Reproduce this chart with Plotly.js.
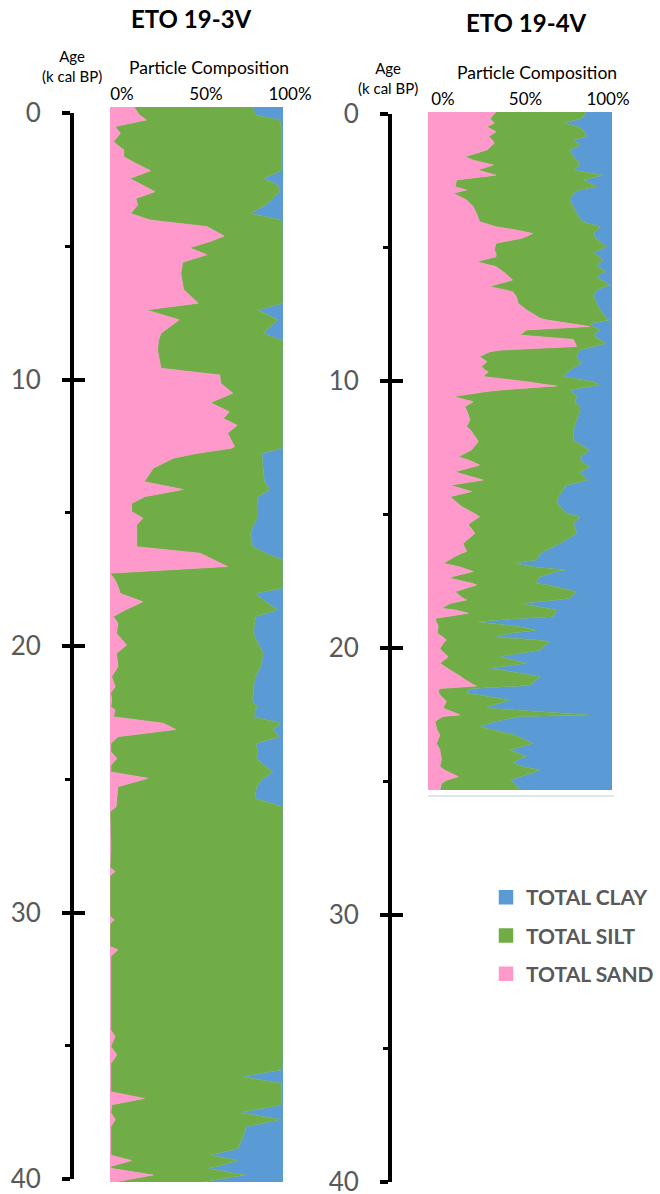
<!DOCTYPE html>
<html>
<head>
<meta charset="utf-8">
<script src="https://cdn.plot.ly/plotly-3.0.1.min.js"></script>
<style>html,body{margin:0;padding:0;background:#fff;}#chart{width:660px;height:1194px;}</style>
</head>
<body>
<div id="chart"></div>
<script>
// ---------- DATA ----------
// Core ETO 19-3V : age (k cal BP) and particle composition (%)
const ageA = [0,0.3,0.48,0.73,0.98,1.29,1.6,1.85,2.1,2.37,
2.66,2.9,3.15,3.4,3.65,3.96,4.2,4.45,4.8,5,
5.24,5.5,5.78,6.2,6.8,7.3,7.55,7.92,8.42,8.7,
9.04,9.72,9.97,10.28,10.65,11,11.34,11.59,11.84,12.14,
12.64,12.7,12.89,13.07,13.44,13.94,14.23,14.5,14.75,15.05,
15.3,15.55,15.86,16.36,16.6,16.86,17.1,17.35,17.6,17.9,
18.1,18.41,18.72,18.96,19.21,19.59,20.02,20.33,20.83,21.2,
21.57,21.8,22.07,22.32,22.44,22.69,22.93,23.16,23.43,23.68,
23.99,24.24,24.49,24.74,24.98,25.29,25.73,26.04,26.22,27.6,
28.3,28.45,28.6,30.1,30.25,30.4,31.24,31.36,31.6,34.34,
34.59,34.96,35.27,35.59,35.83,36.08,36.33,36.64,36.89,37.13,
37.42,37.67,37.94,38.31,38.75,39,39.2,39.42,39.49,39.74,40];
const sandA = [14,17,21,3,6,2,8,8,15,23.5,
11.5,19,26,15,16,12,23,56,66,58,
46,56,42,41,42.6,51,21,40,29.5,28,
27.5,29.5,63.5,64,71,58,69,65.5,73.5,68,
72,70,50,36.6,25,19.8,42.3,20,12.5,12.5,
19,15.4,15.6,15.5,52,60,68,0,3,5,
6,19,8.7,2,4.6,3.8,9.6,3.8,4.6,1,
3,0.4,1,0.5,3,2,30.8,38,4.6,0.5,
0.5,4,0.5,0.5,22,4.6,3.8,3.5,0,0.5,
0,3,0,0,2.5,0,0,4.6,0.5,0.5,
3,0.5,4,0.5,0.5,0.5,0.5,0.5,20,1,
0.5,3,0.5,0.5,0.5,0.5,12.5,0.5,0.5,25,3];
const siltA = [68.5,67,77,96,93,97,91,91,84,75.5,
77.1,78,72,79,74,69,76,44,34,42,
54,44,58,59,57.4,49,64.5,57,59.1,72,
72.5,70.5,36.5,36,29,42,31,34.5,26.5,32,
28,29,37.7,51.4,63.6,69.5,50.2,65.5,72.5,72.5,
66,67.6,65.4,67,38,40,32,100,97,95,
77.8,71,88.3,82.4,78.9,79.2,76.4,84.8,82.4,83,
80,82.6,81,84.5,81,81,68.2,56,93.4,83.9,
85,80.7,88.5,93.5,66.6,80.1,80,96.5,100,99.5,
100,97,100,100,97.5,100,100,95.4,99.5,99.5,
97,99.5,96,99.5,98.5,75.5,98.5,98.5,79,98,
74.5,96,78.1,76.5,73.5,57.5,61.5,61.5,55.5,53,51];
const clayA = [17.5,16,2,1,1,1,1,1,1,1,
11.4,3,2,6,10,19,1,0,0,0,
0,0,0,0,0,0,14.5,3,11.4,0,
0,0,0,0,0,0,0,0,0,0,
0,1,12.3,12,11.4,10.7,7.5,14.5,15,15,
15,17,19,17.5,10,0,0,0,0,0,
16.2,10,3,15.6,16.5,17,14,11.4,13,16,
17,17,18,15,16,17,1,6,2,15.6,
14.5,15.3,11,6,11.4,15.3,16.2,0,0,0,
0,0,0,0,0,0,0,0,0,0,
0,0,0,0,1,24,1,1,1,1,
25,1,21.4,23,26,42,26,38,44,22,46];

// Core ETO 19-4V
const ageB = [0,0.24,0.42,0.55,0.74,0.92,1.05,1.17,1.23,1.42,
1.67,1.8,1.98,2.17,2.36,2.54,2.79,2.92,3.04,3.29,
3.54,3.79,4.1,4.29,4.41,4.54,4.72,4.91,5.03,5.16,
5.28,5.41,5.53,5.6,5.78,5.97,6.03,6.16,6.28,6.47,
6.53,6.65,6.72,6.9,7.15,7.4,7.71,7.78,7.9,8.02,
8.15,8.34,8.5,8.65,8.77,8.9,8.96,9.15,9.33,9.4,
9.52,9.65,9.71,9.89,10.08,10.2,10.24,10.39,10.45,10.64,
10.83,11.02,11.14,11.5,11.76,11.88,12.26,12.32,12.64,12.89,
13.01,13.2,13.26,13.45,13.5,13.76,13.95,14.19,14.38,14.63,
14.75,15,15.13,15.38,15.44,15.75,16.13,16.43,16.5,16.62,
16.75,16.87,17,17.12,17.18,17.37,17.43,17.62,17.68,17.93,
18.18,18.24,18.37,18.55,18.62,18.74,18.87,18.93,19.06,19.24,
19.37,19.49,19.62,19.74,19.8,20.05,20.11,20.36,20.61,20.8,
20.86,21.11,21.17,21.42,21.46,21.55,21.61,21.74,21.79,21.99,
22.04,22.24,22.29,22.54,22.6,22.73,22.79,22.98,23.04,23.23,
23.29,23.6,23.85,24.1,24.16,24.35,24.48,24.6,24.85,24.98,
25.1,25.35];
const sandB = [37,33.7,36,32,37,33,35,36,35,32,
20,24.6,35.5,27,37,15.6,14.7,21,13.8,21,
24.6,26.4,28,37,48,57,51,37,36.5,36,
37,37,30,26.4,37,41,42,44,46,36,
33.7,42,46,48,49,53.6,61,65,77,88,
53.6,50,79,80,80.8,40,33.7,28,32,31,
29,31,32.8,30,53.6,65,70,40,32,13.8,
24.6,20,21,22.8,21,23,27,27.4,23.5,16.5,
22,28,25,14.7,17,30,12,23.7,12,16,
18.3,25,28,22.5,22,25.5,19,21,18,14.7,
11,8.3,17,22,24.6,13,12,24,26.4,14.7,
19,21,12,7.4,15,22,8,3.8,4.5,5.6,
5.2,5,8,10,9,6.5,7,11,6.5,10.5,
12,18,19,25,26.4,7,5.6,6,6.5,9.5,
10,8.5,8.3,17.4,8,5,3.8,4.5,4.6,6,
6.5,4.6,6.5,7,7.4,6.8,6.5,9,16.5,10,
7.4,6.5];
const siltB = [49,49.8,37.5,50,48,53,44,45,47.6,45,
59,56.4,47.1,52,58,68.8,77,61,65.2,56,
54.4,54.4,56,56.5,44,33,40,58,60.5,57,
53,56,65,67.6,54.7,56,52,47.7,48,63,
62.3,49.7,45,42,42.7,39.9,36,34,11,2,
39.9,40,14,17,9.2,42.6,48.3,52.8,50,52.5,
51,46,43.2,43.5,36.4,28.5,20,37,46,67,
55.4,62.6,61.6,58,58.5,56,52,52.6,64.2,66.5,
60.6,58,63,68.3,65.6,57,63,48.8,59,54,
53.7,50,54.6,56.5,57.5,55.3,52.7,42,43,45.3,
48,38.1,40,53,45.4,48,48,35,38.6,66.1,
58,49,38,57.6,55,47,60,46.2,21.9,44.4,
53.8,40,27.5,50,57,55.5,54,28,47.1,21.5,
28,43,41,30.4,23.6,17.6,16.4,15,21.5,35.1,
32,23.5,24.7,70.6,42,34,32.2,23.5,27.4,38.6,
40.5,52.4,38.1,46.6,42.6,39.6,45.5,52,33.5,34.6,
39.6,43.5];
const clayB = [14,16.5,26.5,18,15,14,21,19,17.4,23,
21,19,17.4,21,5,15.6,8.3,18,21,23,
21,19.2,16,6.5,8,10,9,5,3,7,
10,7,5,6,8.3,3,6,8.3,6,1,
4,8.3,9,10,8.3,6.5,3,1,12,10,
6.5,10,7,3,10,17.4,18,19.2,18,16.5,
20,23,24,26.5,10,6.5,10,23,22,19.2,
20,17.4,17.4,19.2,20.5,21,21,20,12.3,17,
17.4,14,12,17,17.4,13,25,27.5,29,30,
28,25,17.4,21,20.5,19.2,28.3,37,39,40,
41,53.6,43,25,30,39,40,41,35,19.2,
23,30,50,35,30,31,32,50,73.6,50,
41,55,64.5,40,34,38,39,61,46.4,68,
60,39,40,44.6,50,75.4,78,79,72,55.4,
58,68,67,12,50,61,64,72,68,55.4,
53,43,55.4,46.4,50,53.6,48,39,50,55.4,
53,50];

const seriesNames = ['TOTAL SAND','TOTAL SILT','TOTAL CLAY'];
const coreTitles = ['ETO 19-3V','ETO 19-4V'];
const ageTicks = [0,10,20,30,40];
const ageMinorTicks = [5,15,25,35];
const pctTicks = [0,50,100];
const pctLabels = ['0%','50%','100%'];

// ---------- STYLE ----------
const COLORS = {sand:'#FF99CC', silt:'#70AD47', clay:'#5B9BD5'};
const FONT = 'Lato, "Open Sans", "DejaVu Sans", sans-serif';
const W = 660, H = 1194;
const fx = v => v / W;          // pixel -> paper x
const fy = v => 1 - v / H;      // pixel -> paper y

function core(age, sand, silt, clay, xa, ya, grp) {
  const vals = [sand, silt, clay];
  const cols = [COLORS.sand, COLORS.silt, COLORS.clay];
  return vals.map((v, i) => ({
    type: 'scatter', mode: 'lines', x: v, y: age, xaxis: xa, yaxis: ya,
    stackgroup: grp, orientation: 'h',
    line: {width: 0.6, color: cols[i], shape: 'linear'},
    fillcolor: cols[i], name: seriesNames[i], showlegend: false, hoverinfo: 'skip'
  }));
}

const traces = [
  ...core(ageA, sandA, siltA, clayA, 'x', 'y', 'left'),
  ...core(ageB, sandB, siltB, clayB, 'x2', 'y2', 'right'),
];

// legend entries (square swatches), top to bottom: clay, silt, sand
[['TOTAL CLAY', COLORS.clay], ['TOTAL SILT', COLORS.silt], ['TOTAL SAND', COLORS.sand]].forEach((d, i) => {
  traces.push({type: 'bar', x: [null], y: [null], xaxis: 'x', yaxis: 'y', name: d[0],
    marker: {color: d[1], line: {color: d[1], width: 2.5}}, legendgroup: 'g' + i, showlegend: true, hoverinfo: 'skip'});
});

// invisible anchors so the free axes are drawn
[['x3','y3'],['x3','y4'],['x4','y5'],['x4','y6'],['x5','y'],['x6','y2']].forEach(p => {
  traces.push({type: 'scatter', mode: 'markers', x: [null], y: [null], xaxis: p[0], yaxis: p[1], showlegend: false, hoverinfo: 'skip'});
});

function ageAxisMain(top, bottom) {
  return {domain: [fy(bottom), fy(top)], range: [40, 0], type: 'linear', side: 'left',
    showline: true, linewidth: 4, linecolor: '#000', showgrid: false, zeroline: false,
    tickmode: 'array', tickvals: ageTicks, ticks: 'outside', ticklen: 8, tickwidth: 4, tickcolor: '#000',
    tickfont: {family: FONT, size: 26, color: '#595959'}, ticklabelstandoff: 16, ticklabeloverflow: 'allow',
    minor: {tickmode: 'array', tickvals: ageMinorTicks, ticks: 'outside', ticklen: 5, tickwidth: 3, tickcolor: '#000', showgrid: false},
    fixedrange: true};
}
function ageAxisInner(base, anchor) {
  return {overlaying: base, anchor: anchor, range: [40, 0], type: 'linear', side: 'left',
    showline: false, showgrid: false, zeroline: false, showticklabels: false,
    tickmode: 'array', tickvals: ageTicks, ticks: 'inside', ticklen: 11, tickwidth: 4, tickcolor: '#000', fixedrange: true};
}
function pctAxis(l, r, anchor) {
  return {domain: [fx(l), fx(r)], anchor: anchor, side: 'top', range: [0, 100], type: 'linear',
    showline: false, showgrid: false, zeroline: false, ticks: '',
    tickmode: 'array', tickvals: pctTicks, ticktext: pctLabels,
    tickfont: {family: FONT, size: 17, color: '#000'}, ticklabelstandoff: 3, fixedrange: true};
}
const hidden = {visible: false, showgrid: false, zeroline: false, fixedrange: true, type: 'linear'};

const layout = {
  width: W, height: H, margin: {l: 0, r: 0, t: 0, b: 0},
  paper_bgcolor: '#fff', plot_bgcolor: 'rgba(0,0,0,0)',
  font: {family: FONT},
  showlegend: true,
  xaxis: Object.assign({}, hidden, {domain: [fx(110), fx(283)], range: [0, 100], anchor: 'y'}),
  yaxis: Object.assign({}, hidden, {domain: [fy(1182), fy(107)], range: [40, 0], anchor: 'x'}),
  xaxis2: Object.assign({}, hidden, {domain: [fx(428), fx(612)], range: [0, 100], anchor: 'y2'}),
  yaxis2: Object.assign({}, hidden, {domain: [fy(1182), fy(112)], range: [40, 0], anchor: 'x2'}),
  xaxis3: Object.assign({}, hidden, {domain: [fx(74), fx(80)], range: [0, 1], anchor: 'y3'}),
  xaxis4: Object.assign({}, hidden, {domain: [fx(392), fx(398)], range: [0, 1], anchor: 'y5'}),
  yaxis3: Object.assign(ageAxisMain(113, 1179), {anchor: 'x3'}),
  yaxis4: ageAxisInner('y3', 'x3'),
  yaxis5: Object.assign(ageAxisMain(114, 1182), {anchor: 'x4'}),
  yaxis6: ageAxisInner('y5', 'x4'),
  xaxis5: pctAxis(122, 290, 'y'),
  xaxis6: pctAxis(443, 608, 'y2'),
  legend: {x: fx(486), xanchor: 'left', y: fy(877), yanchor: 'top',
    font: {family: FONT, size: 21, color: '#595959', weight: 'bold'},
    traceorder: 'grouped', tracegroupgap: 8, bgcolor: 'rgba(0,0,0,0)', borderwidth: 0},
  annotations: [
    {text: '<b>' + coreTitles[0] + '</b>', x: fx(191.5), y: fy(19), xref: 'paper', yref: 'paper', showarrow: false, xanchor: 'center', yanchor: 'middle', font: {family: FONT, size: 24, color: '#000'}},
    {text: '<b>' + coreTitles[1] + '</b>', x: fx(526), y: fy(22), xref: 'paper', yref: 'paper', showarrow: false, xanchor: 'center', yanchor: 'middle', font: {family: FONT, size: 24, color: '#000'}},
    {text: 'Age<br>(k cal BP)', x: fx(72), y: fy(66), xref: 'paper', yref: 'paper', showarrow: false, xanchor: 'center', yanchor: 'middle', font: {family: FONT, size: 15, color: '#000'}},
    {text: 'Age<br>(k cal BP)', x: fx(388), y: fy(77.5), xref: 'paper', yref: 'paper', showarrow: false, xanchor: 'center', yanchor: 'middle', font: {family: FONT, size: 15, color: '#000'}},
    {text: 'Particle Composition', x: fx(209), y: fy(67), xref: 'paper', yref: 'paper', showarrow: false, xanchor: 'center', yanchor: 'middle', font: {family: FONT, size: 17.5, color: '#000'}},
    {text: 'Particle Composition', x: fx(537), y: fy(72), xref: 'paper', yref: 'paper', showarrow: false, xanchor: 'center', yanchor: 'middle', font: {family: FONT, size: 17.5, color: '#000'}}
  ],
  shapes: [
    {type: 'line', xref: 'x2 domain', yref: 'paper', x0: 0, x1: 1.01, y0: fy(796), y1: fy(796), line: {color: '#D6DCE5', width: 1.5}}
  ]
};

Plotly.newPlot('chart', traces, layout, {displayModeBar: false, staticPlot: true});
</script>
</body>
</html>
